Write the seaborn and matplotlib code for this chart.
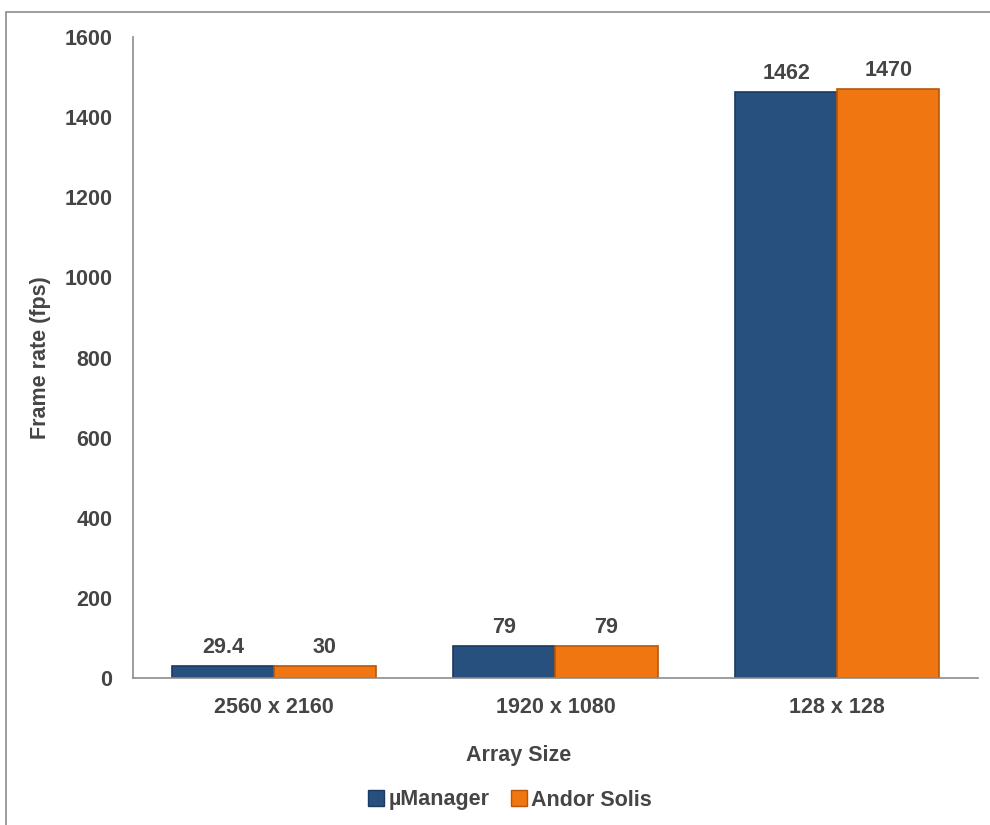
import matplotlib
matplotlib.use("Agg")
import matplotlib.pyplot as plt
import seaborn as sns
import pandas as pd
from matplotlib.patches import Rectangle

categories = ["2560 x 2160", "1920 x 1080", "128 x 128"]
series_names = ["µManager", "Andor Solis"]
umanager = [29.4, 79, 1462]
andor = [30, 79, 1470]
labels_um = ["29.4", "79", "1462"]
labels_an = ["30", "79", "1470"]
yticks = [0, 200, 400, 600, 800, 1000, 1200, 1400, 1600]

df = pd.DataFrame({
    "Array Size": categories * 2,
    "fps": umanager + andor,
    "Series": [series_names[0]] * 3 + [series_names[1]] * 3,
})

sns.set_style("white")
plt.rcParams["font.family"] = ["Liberation Sans", "DejaVu Sans"]

colors = ["#27507F", "#F07612"]
edges = ["#1A3A60", "#B85508"]
text_col = "#454545"
FS = 15.5

W, H = 990, 825
AW = 978 - 133
AH = 678 - 37
fig = plt.figure(figsize=(9.9, 8.25), dpi=100)
ax = fig.add_axes([133 / W, 1 - 678 / H, AW / W, AH / H])

sns.barplot(data=df, x="Array Size", y="fps", hue="Series", palette=colors,
            width=0.725, gap=0, ax=ax, legend=True, saturation=1)

for cont, ec in zip(ax.containers, edges):
    for bar in cont:
        bar.set_edgecolor(ec)
        bar.set_linewidth(1.2)

ax.bar_label(ax.containers[0], labels=labels_um, padding=6, fontsize=FS,
             fontweight="bold", color=text_col)
ax.bar_label(ax.containers[1], labels=labels_an, padding=6, fontsize=FS,
             fontweight="bold", color=text_col)

ax.set_ylim(0, 1600)
ax.set_yticks(yticks)
ax.set_yticklabels([str(v) for v in yticks], fontsize=FS, fontweight="bold", color=text_col)
ax.tick_params(axis="y", length=0, pad=15)
ax.tick_params(axis="x", length=0, pad=14, labelsize=FS, labelcolor=text_col)
for t in ax.get_xticklabels():
    t.set_fontweight("bold")
ax.set_xlim(-0.5, 2.5)

ax.set_ylabel("Frame rate (fps)", fontsize=FS, fontweight="bold", color=text_col)
ax.yaxis.set_label_coords((40 - 133) / AW, 0.5)
ax.set_xlabel("Array Size", fontsize=FS, fontweight="bold", color=text_col)
ax.xaxis.set_label_coords((519 - 133) / AW, -(755 - 678) / AH)
ax.xaxis.label.set_va("center")
ax.yaxis.label.set_va("center")

for s in ["top", "right"]:
    ax.spines[s].set_visible(False)
ax.spines["left"].set_color("#8C8C8C")
ax.spines["bottom"].set_color("#8C8C8C")
ax.spines["left"].set_linewidth(1.2)
ax.spines["bottom"].set_linewidth(1.2)

leg = ax.legend(loc="center", bbox_to_anchor=((510 - 133) / AW, -(800 - 678) / AH), ncol=2,
                frameon=False, fontsize=FS, handlelength=0.75, handleheight=0.75,
                handletextpad=0.2, columnspacing=1.0)
for t in leg.get_texts():
    t.set_fontweight("bold")
    t.set_color(text_col)
for h, ec in zip(leg.legend_handles, edges):
    h.set_edgecolor(ec)

fig.patches.append(Rectangle((6 / W, -0.05), 1.1, 1 - 12 / H + 0.05,
                             transform=fig.transFigure, fill=False,
                             edgecolor="#8C8C8C", linewidth=1.2))

fig.savefig("out.png", dpi=100)
